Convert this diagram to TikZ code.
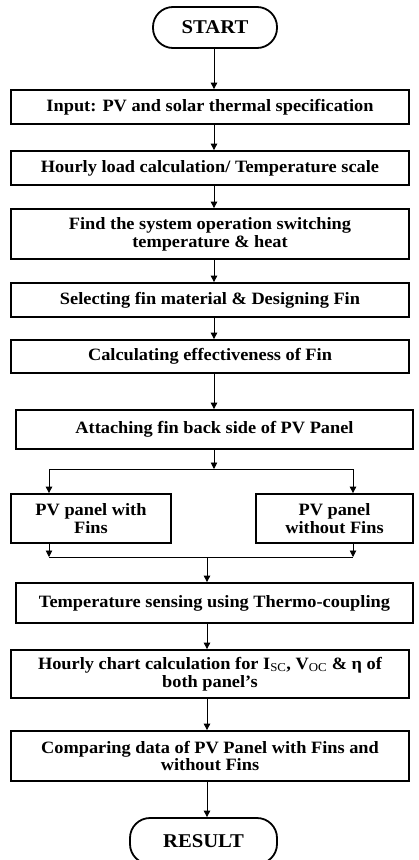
\documentclass[tikz,border=0pt]{standalone}
\usepackage{fontspec}
\setmainfont{Liberation Serif}[FakeStretch=1.06]
\usetikzlibrary{arrows.meta}
\begin{document}
\begin{tikzpicture}[x=1pt,y=-1pt,
  box/.style={draw=black,line width=1.8pt,rectangle,align=center,inner sep=0pt,
    font=\fontsize{17.3}{17.8}\selectfont\bfseries},
  term/.style={box,rounded corners=20pt},
  arr/.style={draw=black,line width=0.9pt,-{Triangle[width=6.5pt,length=6.5pt]}},
  ln/.style={draw=black,line width=0.9pt}]
\useasboundingbox (0,0) rectangle (418,860);
\fill[white] (0,0) rectangle (418,860);
\node[term,minimum width=124pt,minimum height=41pt,font=\fontsize{19.5}{20}\selectfont\bfseries] (start) at (215,27.5) {START};
\node[box,minimum width=398pt,minimum height=34pt] (input) at (210,107) {Input: PV and solar thermal specification};
\node[box,minimum width=398pt,minimum height=34pt] (hourly) at (210,168) {Hourly load calculation/ Temperature scale};
\node[box,minimum width=398pt,minimum height=50pt] (find) at (210,234) {Find the system operation switching\\temperature \& heat};
\node[box,minimum width=398pt,minimum height=34pt] (select) at (210,300) {Selecting fin material \& Designing Fin};
\node[box,minimum width=398pt,minimum height=33pt] (calc) at (210,356.5) {Calculating effectiveness of Fin};
\node[box,minimum width=397pt,minimum height=39pt] (attach) at (214.5,429.5) {Attaching fin back side of PV Panel};
\node[box,minimum width=160pt,minimum height=49pt] (left) at (91,518.5) {PV panel with\\Fins};
\node[box,minimum width=157pt,minimum height=49pt] (right) at (334.5,518.5) {PV panel\\without Fins};
\node[box,minimum width=397pt,minimum height=40pt] (temp) at (214.5,603) {Temperature sensing using Thermo-coupling};
\node[box,minimum width=398pt,minimum height=48pt] (chart) at (210,674) {Hourly chart calculation for I\textsubscript{\mdseries SC}, V\textsubscript{\mdseries OC} \& η of\\both panel’s};
\node[box,minimum width=398pt,minimum height=50pt] (comp) at (210,756) {Comparing data of PV Panel with Fins and\\without Fins};
\node[term,minimum width=147pt,minimum height=46pt,font=\fontsize{19.5}{20}\selectfont\bfseries] (result) at (203.5,841) {RESULT};
% connectors
\draw[arr] (start.south -| 214,0) -- (input.north -| 214,0);
\draw[arr] (input.south -| 214,0) -- (hourly.north -| 214,0);
\draw[arr] (hourly.south -| 214,0) -- (find.north -| 214,0);
\draw[arr] (find.south -| 214,0) -- (select.north -| 214,0);
\draw[arr] (select.south -| 214,0) -- (calc.north -| 214,0);
\draw[arr] (calc.south -| 214,0) -- (attach.north -| 214,0);
\coordinate (split) at (214,469);
\coordinate (sl) at (49,469);
\coordinate (sr) at (353,469);
\draw[arr] (attach.south -| split) -- (split);
\draw[ln] (sl) -- (sr);
\draw[arr] (sl) -- (left.north -| sl);
\draw[arr] (sr) -- (right.north -| sr);
\coordinate (jl) at (49,557);
\coordinate (jr) at (353,557);
\coordinate (join) at (207,557);
\draw[arr] (left.south -| jl) -- (jl);
\draw[arr] (right.south -| jr) -- (jr);
\draw[ln] (jl) -- (jr);
\draw[arr] (join) -- (temp.north -| join);
\draw[arr] (temp.south -| join) -- (chart.north -| join);
\draw[arr] (chart.south -| join) -- (comp.north -| join);
\draw[arr] (comp.south -| join) -- (result.north -| join);
\end{tikzpicture}
\end{document}
